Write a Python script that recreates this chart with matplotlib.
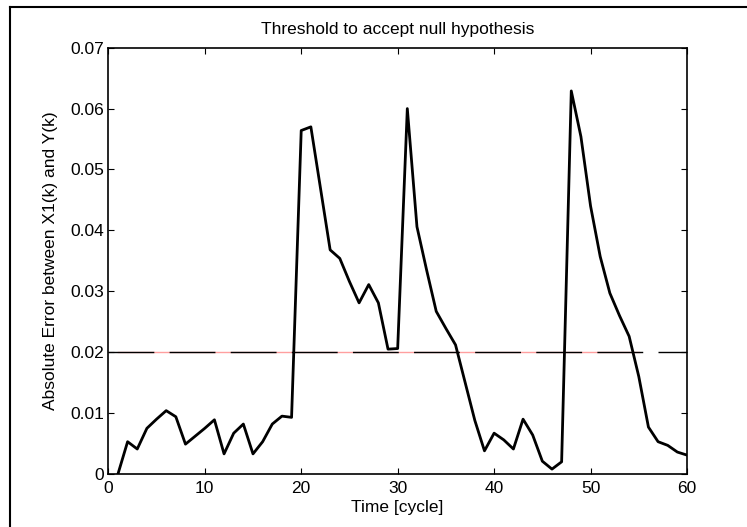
import matplotlib
matplotlib.use("Agg")
import matplotlib.pyplot as plt
from matplotlib.lines import Line2D

plt.rcParams['font.family'] = ['Liberation Sans', 'DejaVu Sans']

cycles = list(range(1, 61))
abs_error = [
    0.0000, 0.0053, 0.0041, 0.0075, 0.0090, 0.0104, 0.0094, 0.0049, 0.0062, 0.0075,
    0.0089, 0.0033, 0.0067, 0.0082, 0.0033, 0.0053, 0.0082, 0.0095, 0.0093, 0.0564,
    0.0570, 0.0469, 0.0368, 0.0354, 0.0316, 0.0281, 0.0311, 0.0281, 0.0205, 0.0206,
    0.0600, 0.0406, 0.0335, 0.0267, 0.0239, 0.0212, 0.0150, 0.0088, 0.0038, 0.0067,
    0.0056, 0.0041, 0.0090, 0.0064, 0.0021, 0.0008, 0.0020, 0.0629, 0.0554, 0.0440,
    0.0357, 0.0297, 0.0260, 0.0226, 0.0160, 0.0077, 0.0053, 0.0047, 0.0036, 0.0031,
]
threshold = 0.02
pink_range = [1, 55]
x_limits = [0, 60]
y_limits = [0, 0.07]
x_ticks = [0, 10, 20, 30, 40, 50, 60]
y_ticks = [0, 0.01, 0.02, 0.03, 0.04, 0.05, 0.06, 0.07]
y_tick_labels = ['0', '0.01', '0.02', '0.03', '0.04', '0.05', '0.06', '0.07']

FS = 12.5

fig = plt.figure(figsize=(7.47, 5.27), dpi=100)
ax = fig.add_axes([0.145, 0.1006, 0.7747, 0.8089])

ax.plot(pink_range, [threshold, threshold], color='#ff9f9f', lw=1.0, zorder=1)
ax.plot(x_limits, [threshold, threshold], color='black', lw=1.0,
        dashes=(33, 11), zorder=2)
ax.plot(cycles, abs_error, color='black', lw=2.0, zorder=3)

ax.set_xlim(x_limits)
ax.set_ylim(y_limits)
ax.set_xticks(x_ticks)
ax.set_yticks(y_ticks)
ax.set_yticklabels(y_tick_labels)
ax.tick_params(axis='both', direction='in', top=True, right=True, length=4,
               width=0.8, labelsize=FS, colors='black')
ax.tick_params(axis='x', pad=5)
ax.tick_params(axis='y', pad=3)
for s in ax.spines.values():
    s.set_linewidth(1.2)

ax.set_title('Threshold to accept null hypothesis', fontsize=FS, pad=10)
ax.set_xlabel('Time [cycle]', fontsize=FS, labelpad=3)
ax.set_ylabel('Absolute Error between X1(k) and Y(k)', fontsize=FS, labelpad=9)

# partial figure frame (left and top edges)
fig.add_artist(Line2D([9.5/747, 9.5/747], [0, 1 - 7/527], transform=fig.transFigure,
                      color='black', lw=1.5))
fig.add_artist(Line2D([9.5/747, 1], [1 - 7/527, 1 - 7/527], transform=fig.transFigure,
                      color='black', lw=1.5))

fig.savefig('out.png', dpi=100)
